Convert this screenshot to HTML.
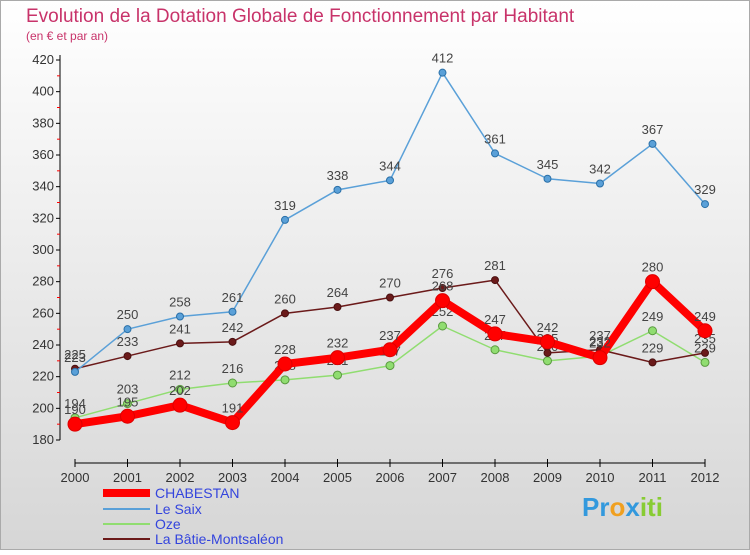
<!DOCTYPE html>
<html><head><meta charset="utf-8"><style>
body{margin:0;width:750px;height:550px;overflow:hidden;font-family:"Liberation Sans","DejaVu Sans",sans-serif}
</style></head><body>
<svg id="c" width="750" height="550" xmlns="http://www.w3.org/2000/svg">
<defs><linearGradient id="bg" x1="0" y1="0" x2="0" y2="1"><stop offset="0" stop-color="#ffffff"/><stop offset="1" stop-color="#d6d6d6"/></linearGradient></defs>
<rect x="0.5" y="0.5" width="749" height="549" fill="url(#bg)" stroke="#aaa"/>
<text x="26" y="22" font-size="19" fill="#c8336a">Evolution de la Dotation Globale de Fonctionnement par Habitant</text>
<text x="26" y="40" font-size="12" fill="#c8336a">(en € et par an)</text>
<g id="axes"></g><g id="series"></g>
<g>
<line x1="103" y1="493" x2="150" y2="493" stroke="#f00" stroke-width="8"/>
<text x="155" y="498" font-size="14" fill="#3344dd">CHABESTAN</text>
<line x1="103" y1="509" x2="150" y2="509" stroke="#5aa0d8" stroke-width="2"/>
<text x="155" y="514" font-size="14" fill="#3344dd">Le Saix</text>
<line x1="103" y1="524" x2="150" y2="524" stroke="#90dd70" stroke-width="2"/>
<text x="155" y="529" font-size="14" fill="#3344dd">Oze</text>
<line x1="103" y1="539" x2="150" y2="539" stroke="#6b1a1a" stroke-width="2"/>
<text x="155" y="544" font-size="14" fill="#3344dd">La Bâtie-Montsaléon</text>
</g>
<g><text x="582" y="516" font-size="26" font-weight="bold" fill="#3399dd">Pr<tspan fill="#f0a020">o</tspan><tspan fill="#3399dd">x</tspan><tspan fill="#88cc33">iti</tspan></text></g>
</svg>
<script>
const years=[2000,2001,2002,2003,2004,2005,2006,2007,2008,2009,2010,2011,2012];
const chabestan=[190,195,202,191,228,232,237,268,247,242,232,280,249];
const leSaix=[223,250,258,261,319,338,344,412,361,345,342,367,329];
const oze=[194,203,212,216,218,221,227,252,237,230,233,249,229];
const batie=[225,233,241,242,260,264,270,276,281,235,237,229,235];
const yTicks=[180,200,220,240,260,280,300,320,340,360,380,400,420];
const NS="http://www.w3.org/2000/svg";
const X=i=>75+i*52.5, Y=v=>440-(v-180)*(380/240);
function mk(tag,at,par){const e=document.createElementNS(NS,tag);for(const k in at)e.setAttribute(k,at[k]);par.appendChild(e);return e;}
const ax=document.getElementById('axes');
let l=mk('line',{x1:60,y1:55,x2:60,y2:440,stroke:'#000'},ax);


l=mk('line',{x1:75,y1:463,x2:705,y2:463,stroke:'#000'},ax);


yTicks.forEach(v=>{const y=Y(v);mk('line',{x1:56,y1:y,x2:60,y2:y,stroke:'#000'},ax);
if(v<420)mk('line',{x1:57,y1:Y(v+10),x2:60,y2:Y(v+10),stroke:'#f00'},ax);
const t=mk('text',{x:54,y:y+4,'text-anchor':'end','font-size':13,fill:'#333'},ax);t.textContent=v;

});
years.forEach((yr,i)=>{mk('line',{x1:X(i),y1:459,x2:X(i),y2:467,stroke:'#000'},ax);
const t=mk('text',{x:X(i),y:482,'text-anchor':'middle','font-size':13,fill:'#333'},ax);t.textContent=yr;

});
const sg=document.getElementById('series');
function draw(vals,name,color,w,r,stroke){
const g=mk('g',{},sg);


const p=mk('polyline',{points:vals.map((v,i)=>X(i)+','+Y(v)).join(' '),fill:'none',stroke:color,'stroke-width':w,'stroke-linejoin':'round'},g);


vals.forEach((v,i)=>{const c=mk('circle',{cx:X(i),cy:Y(v),r:r,fill:color,stroke:stroke,'stroke-width':1},g);


const t=mk('text',{x:X(i),y:Y(v)-10,'text-anchor':'middle','font-size':13,fill:'#444'},g);t.textContent=v;

});}
draw(oze,'oze','#90dd70',1.5,4,'#5a9a40');
draw(batie,'batie','#6b1a1a',1.5,3.5,'#4a1010');
draw(leSaix,'le-saix','#5aa0d8',1.5,3.5,'#2a70a8');
draw(chabestan,'chabestan','#f00',8,7,'#d00');
</script>
</body></html>
